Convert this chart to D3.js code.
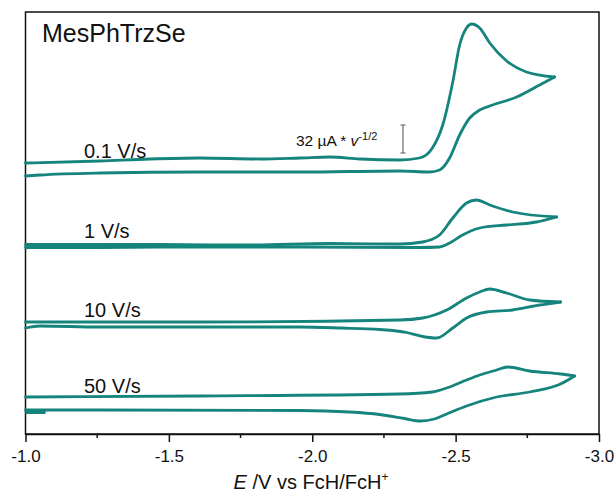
<!DOCTYPE html>
<html>
<head>
<meta charset="utf-8">
<script src="https://d3js.org/d3.v7.min.js"></script>
<style>
body { margin: 0; background: #fff; }
svg text { font-family: "Liberation Sans", Arial, sans-serif; fill: #111; }
path.cv { fill: none; stroke: #14847c; stroke-width: 2.8; stroke-linejoin: round; stroke-linecap: round; }
</style>
</head>
<body>
<svg width="614" height="499"></svg>
<script>
// potential (V vs FcH/FcH+) and offset current for each scan rate
// each trace: forward sweep (to the vertex) and return sweep
var cv01 = {
  label: "0.1 V/s",
  fwd: [[-1.0,271],[-1.26,273],[-1.434,275],[-1.608,276],[-1.817,275],[-1.956,276],[-2.061,277],[-2.166,275],[-2.305,274],[-2.374,276],
        [-2.419,286],[-2.455,309],[-2.49,352],[-2.514,389],[-2.538,406],[-2.556,410],[-2.584,406],[-2.619,391],[-2.678,373],[-2.747,362],[-2.845,357]],
  back: [[-2.845,357],[-2.793,349],[-2.713,337],[-2.629,329],[-2.584,324],[-2.549,316],[-2.514,299],[-2.479,276],[-2.444,264],[-2.409,262],
         [-2.305,263],[-1.956,262],[-1.608,262],[-1.26,261],[-1.05,259],[-1.0,258]]
};
var cv1 = {
  label: "1 V/s",
  fwd: [[-1.0,189.5],[-1.469,189.5],[-1.782,189],[-2.061,190.5],[-2.305,190],[-2.385,192],[-2.444,199],[-2.49,216],[-2.538,231],[-2.573,234],
        [-2.619,229],[-2.699,222],[-2.852,217]],
  back: [[-2.852,217],[-2.782,212],[-2.678,209],[-2.584,206],[-2.524,199],[-2.479,191],[-2.444,187],[-2.374,186.5],[-1.956,187],[-1.469,187],
         [-1.26,186.5],[-1.0,186.5]]
};
var cv10 = {
  label: "10 V/s",
  fwd: [[-1.0,112],[-1.608,112],[-2.305,114],[-2.385,116],[-2.469,124],[-2.538,136],[-2.584,142],[-2.619,145],[-2.678,141],[-2.758,134],[-2.866,132]],
  back: [[-2.866,132],[-2.793,129],[-2.699,124],[-2.608,122],[-2.538,116],[-2.49,106],[-2.434,96],[-2.385,97.5],[-2.329,101.5],[-2.235,104.5],
         [-2.1,106],[-1.956,107],[-1.26,107],[-1.05,108],[-1.0,106]]
};
var cv50 = {
  label: "50 V/s",
  fwd: [[-1.0,37],[-1.608,38],[-2.305,40],[-2.419,42],[-2.469,46],[-2.538,54],[-2.584,59],[-2.643,64],[-2.681,67],[-2.758,63],[-2.866,60],[-2.915,58]],
  back: [[-2.915,58],[-2.866,50],[-2.758,42],[-2.643,37],[-2.538,28],[-2.469,20],[-2.426,15],[-2.377,13],[-2.322,15.5],[-2.235,19.5],
         [-2.13,22],[-1.956,23.5],[-1.26,24],[-1.0,24]]
};
// short settling segment at the start of the 50 V/s scan
var cv50Start = [[-1.0,22.5],[-1.07,22.5]];

var traces = [cv01, cv1, cv10, cv50];
var labelCurrent = [276, 196, 117, 41];

var xTicks = [-1.0, -1.5, -2.0, -2.5, -3.0];
var xMinor = [-1.25, -1.75, -2.25, -2.75];
var scaleBar = [281, 309]; // 32 uA * v^-1/2

var svg = d3.select("svg");
var plotLeft = 25.5, plotRight = 599, plotTop = 12, plotBottom = 434;

var x = d3.scaleLinear().domain([-1, -3]).range([plotLeft, plotRight]);
var y = d3.scaleLinear().domain([0, 422]).range([plotBottom, plotTop]);

// each sweep is monotone in E, so sort by pixel x and use a monotone curve
var line = d3.line()
  .x(function (d) { return x(d[0]); })
  .y(function (d) { return y(d[1]); })
  .curve(d3.curveMonotoneX);
function sweep(pts) {
  return line(pts.slice().sort(function (a, b) { return b[0] - a[0]; }));
}

// frame
svg.append("rect")
  .attr("x", plotLeft).attr("y", plotTop)
  .attr("width", plotRight - plotLeft).attr("height", plotBottom - plotTop)
  .attr("fill", "none").attr("stroke", "#111").attr("stroke-width", 1.5);

// bottom axis
var axis = d3.axisBottom(x).tickValues(xTicks)
  .tickFormat(function (d) { return d.toFixed(1); })
  .tickSize(8).tickSizeOuter(0);
var gx = svg.append("g").attr("transform", "translate(0," + plotBottom + ")").call(axis);
gx.attr("font-size", null);
gx.select(".domain").attr("stroke", "#111").attr("stroke-width", 1.5);
gx.selectAll(".tick line").attr("stroke", "#111").attr("stroke-width", 1.5);
gx.selectAll(".tick text").attr("dy", "0.71em").attr("y", 16)
  .style("font-size", "17px")
  .style("font-family", "'Liberation Sans', Arial, sans-serif").attr("fill", "#111");
gx.selectAll(".minor").data(xMinor).enter().append("line")
  .attr("x1", x).attr("x2", x).attr("y1", 0).attr("y2", 4)
  .attr("stroke", "#111").attr("stroke-width", 1.5);

// axis title
var title = svg.append("text").attr("x", 311).attr("y", 489).attr("text-anchor", "middle").style("font-size", "20px");
title.append("tspan").attr("font-style", "italic").text("E");
title.append("tspan").text(" /V vs FcH/FcH");
title.append("tspan").style("font-size", "12px").attr("dy", -8).text("+");

// traces
traces.forEach(function (t) {
  svg.append("path").attr("class", "cv").attr("d", sweep(t.fwd));
  svg.append("path").attr("class", "cv").attr("d", sweep(t.back));
});
svg.append("path").attr("class", "cv").style("stroke-width", 5).style("stroke-linecap", "butt")
  .attr("d", line(cv50Start));

// scan rate labels
svg.selectAll(".rate").data(traces).enter().append("text")
  .attr("class", "rate")
  .attr("x", 84)
  .attr("y", function (d, i) { return y(labelCurrent[i]); })
  .style("font-size", "20px")
  .text(function (d) { return d.label; });

// compound name
svg.append("text").attr("x", 42).attr("y", 42).style("font-size", "25px").text("MesPhTrzSe");

// scale bar
var barX = 403;
svg.append("line").attr("x1", barX).attr("x2", barX).attr("y1", y(scaleBar[0])).attr("y2", y(scaleBar[1]))
  .attr("stroke", "#777").attr("stroke-width", 1.3);
[scaleBar[0], scaleBar[1]].forEach(function (v) {
  svg.append("line").attr("x1", barX - 2.5).attr("x2", barX + 2.5).attr("y1", y(v)).attr("y2", y(v))
    .attr("stroke", "#777").attr("stroke-width", 1.3);
});
var sb = svg.append("text").attr("x", 296).attr("y", 146).style("font-size", "15.5px");
sb.append("tspan").text("32 \u00b5A * ");
sb.append("tspan").attr("font-style", "italic").text("v");
sb.append("tspan").style("font-size", "11px").attr("dy", -6).text("-1/2");
</script>
</body>
</html>
